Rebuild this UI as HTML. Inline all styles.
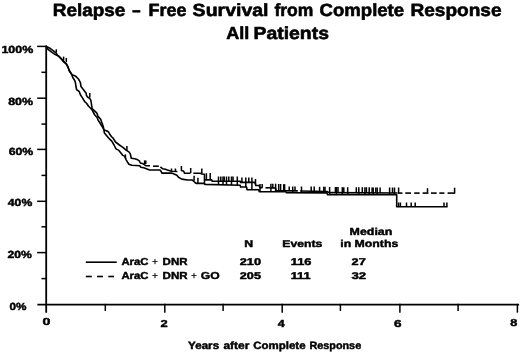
<!DOCTYPE html>
<html><head><meta charset="utf-8"><style>
html,body{margin:0;padding:0;background:#fff;}
body{width:520px;height:353px;overflow:hidden;}
svg{display:block;will-change:transform;}
.tk{stroke-width:1.5px;}
text{font-family:"Liberation Sans", sans-serif;font-weight:bold;text-rendering:geometricPrecision;fill:#000;stroke:#000;stroke-width:0.45px;stroke-linejoin:round;}
[id^=tw]{stroke-width:0.6px;}
#l1p,#l2p,#l2q{font-weight:normal;stroke-width:0.2px;}
</style></head><body>
<svg width="520" height="353" viewBox="0 0 520 353">
<rect width="520" height="353" fill="#fff"/>
<g stroke="#000" stroke-width="1.8" fill="none" stroke-linecap="square">
<line x1="46.2" y1="46.4" x2="46.2" y2="311.9"/><line x1="38.3" y1="304.6" x2="518.2" y2="304.6"/><line class="tk" x1="37.9" y1="46.4" x2="46.2" y2="46.4"/><line class="tk" x1="37.9" y1="98.2" x2="46.2" y2="98.2"/><line class="tk" x1="37.9" y1="149.4" x2="46.2" y2="149.4"/><line class="tk" x1="37.9" y1="201.3" x2="46.2" y2="201.3"/><line class="tk" x1="37.9" y1="252.6" x2="46.2" y2="252.6"/><line class="tk" x1="42.2" y1="72.3" x2="46.2" y2="72.3"/><line class="tk" x1="42.2" y1="124.1" x2="46.2" y2="124.1"/><line class="tk" x1="42.2" y1="175.4" x2="46.2" y2="175.4"/><line class="tk" x1="42.2" y1="226.8" x2="46.2" y2="226.8"/><line class="tk" x1="42.2" y1="278.6" x2="46.2" y2="278.6"/><line class="tk" x1="164.8" y1="304.6" x2="164.8" y2="311.9"/><line class="tk" x1="282.2" y1="304.6" x2="282.2" y2="311.9"/><line class="tk" x1="399.9" y1="304.6" x2="399.9" y2="311.9"/><line class="tk" x1="517.4" y1="304.6" x2="517.4" y2="311.9"/><line class="tk" x1="105.3" y1="304.6" x2="105.3" y2="310.2"/><line class="tk" x1="223.1" y1="304.6" x2="223.1" y2="310.2"/><line class="tk" x1="340.4" y1="304.6" x2="340.4" y2="310.2"/><line class="tk" x1="458.1" y1="304.6" x2="458.1" y2="310.2"/>
</g>
<g stroke="#000" stroke-width="1.6" fill="none" stroke-linejoin="round" stroke-linecap="butt">
<polyline points="46.2,46.5 50,48.3 52.4,50.1 56.1,52.8 57.1,54.9 58.9,56.2 60.9,58.3 62.6,60.3 64.6,62.4 66.3,63.7 67.7,66.4 68.4,68 69.1,70.2 72,74.8 75.3,75.9 78.7,79.3 80.4,82.7 81,86.6 83.5,89.7 84.8,91.4 86.1,93.1 86.5,95.6 87.8,97.3 89.5,98.2 90.7,99.9 91.2,102.4 91.6,105 92,108 92.6,109 95.4,111.6 97,113.3 97.9,116.2 99.2,117.6 100.8,119.6 101.7,122.2 103.1,126 104,130 106.5,130.7 108.6,132 109.9,134.6 111.6,136.7 113.3,138.4 115.5,142 119.4,145 122.9,147.4 126.4,150.4 128.9,151.9 130.3,153.9 131.3,158.3 134.8,158.8 137.8,159.8 139.3,160.8 140.3,163 143.1,163.8 146.2,165.8 150,165.8"/><polyline points="153,166.2 158.8,166.2"/><polyline points="160.4,166.9 162.7,168.8 165.4,169.2 167.3,170 171.5,171.2 177.4,171.5"/><polyline points="181.4,170.8 183.6,171 184.5,173.2 190.4,173.2"/><polyline points="193.3,173.2 200.5,173.2 201.8,174 204.5,174.2 204.5,179.9 211.8,179.9 212.2,181.2 240.2,181.2 240.6,182.4 255,182.4 255.8,185.5 259,185.5 260,187.6 262.4,187.7"/><polyline points="265.5,187.8 270.1,187.8"/><polyline points="270.8,187.9 275.5,188 276,190.6 297.8,190.9"/><polyline points="300.2,191 327,191.5 329,192.6 397,193"/><polyline points="46.2,47.4 48.6,49.9 52,52.4 54.6,54.2 57.1,55.4 58.9,56.5 60.9,58.6 62.6,60.6 64.6,62.7 66.3,64 67.7,66.7 68.4,68.3 69.1,70.5 72,75 72.5,77 74.7,80.5 75.3,82.1 76.5,89.5 79.3,91.7 80.5,95 82,97.1 84.5,101.4 86.7,103.5 88.4,106 90.1,107.7 91.8,109.4 93.2,112 94.8,115 97.1,117.5 98.3,120.5 100,123 101.8,126.1 103.1,128.2 104,130.3 104.4,132.9 106.5,135.4 108.6,138 110.7,140.1 112,141.4 114,145 116,148.9 118.9,150.4 120.9,152.9 122.9,155.4 124.9,156.4 125.9,159.3 127.9,162.8 128.9,164.3 131.8,165.3 139.8,165.8 140.8,167.3 143.7,167.8 147.7,169.3 149.6,170 160,170 161.2,171.5 161.9,173.1 171.5,173.1 174.6,174.2 176.9,175.2 178.5,177.3 181.8,179.1 187.7,180 192,180 193.3,180.8 195,182.5 196.2,183.4 203.9,183.4 205.1,184.4 240.2,185.2 240.6,187 246.6,187 247,189.6 258.7,189.7 259.2,191.6 286,191.8 286.5,192.8 327,192.9 327.5,194.8 396.7,194.8 396.7,206.8 447.5,206.8"/>
<line x1="397.4" y1="193.1" x2="402.4" y2="193.1"/><line x1="405.3" y1="193.1" x2="411" y2="193.1"/><line x1="414.2" y1="193.1" x2="419.6" y2="193.1"/><line x1="422.6" y1="193.1" x2="428.4" y2="193.1"/><line x1="431" y1="193.1" x2="436.7" y2="193.1"/><line x1="439.3" y1="193.1" x2="444.4" y2="193.1"/><line x1="447.6" y1="193.1" x2="455.2" y2="193.1"/>
</g>
<g stroke="#000" stroke-width="1.5" fill="none">
<line x1="56.3" y1="49.3" x2="56.3" y2="52.4"/><line x1="63.6" y1="56.6" x2="63.6" y2="60.5"/><line x1="66.3" y1="58" x2="66.3" y2="62"/><line x1="89.8" y1="92.9" x2="89.8" y2="97.4"/><line x1="126.9" y1="146" x2="126.9" y2="150.4"/><line x1="125.4" y1="154.4" x2="125.4" y2="158.5"/><line x1="144.6" y1="160.4" x2="144.6" y2="164"/><line x1="145.8" y1="160.4" x2="145.8" y2="164"/><line x1="171.5" y1="168.5" x2="171.5" y2="171.2"/><line x1="175.4" y1="168.5" x2="175.4" y2="171.5"/><line x1="181.4" y1="166" x2="181.4" y2="171"/><line x1="190.7" y1="168" x2="190.7" y2="173.2"/><line x1="194.1" y1="175.7" x2="194.1" y2="180.8"/><line x1="197.9" y1="177.8" x2="197.9" y2="183.4"/><line x1="201.8" y1="168.5" x2="201.8" y2="174"/><line x1="206.4" y1="173.2" x2="206.4" y2="179.9"/><line x1="210.2" y1="173" x2="210.2" y2="179.9"/><line x1="204.5" y1="179.5" x2="204.5" y2="184.4"/><line x1="218.5" y1="176.5" x2="218.5" y2="184.71"/><line x1="220.8" y1="176.5" x2="220.8" y2="181.2"/><line x1="223" y1="176.5" x2="223" y2="184.81"/><line x1="224.2" y1="176.5" x2="224.2" y2="181.2"/><line x1="226.5" y1="176.5" x2="226.5" y2="184.89"/><line x1="228.8" y1="176.5" x2="228.8" y2="181.2"/><line x1="231.5" y1="176.5" x2="231.5" y2="185"/><line x1="233" y1="176.5" x2="233" y2="181.2"/><line x1="237.3" y1="176.5" x2="237.3" y2="185.13"/><line x1="241.9" y1="177.4" x2="241.9" y2="182.4"/><line x1="245.8" y1="177.4" x2="245.8" y2="187"/><line x1="248.8" y1="177.4" x2="248.8" y2="182.4"/><line x1="251.9" y1="177.4" x2="251.9" y2="189.64"/><line x1="255.5" y1="179" x2="255.5" y2="184.34"/><line x1="260" y1="184" x2="260" y2="191.61"/><line x1="262.2" y1="184" x2="262.2" y2="187.66"/><line x1="270.9" y1="183.7" x2="270.9" y2="191.69"/><line x1="272.8" y1="183.7" x2="272.8" y2="187.93"/><line x1="275.6" y1="183.7" x2="275.6" y2="191.72"/><line x1="278.7" y1="184" x2="278.7" y2="190.65"/><line x1="280.6" y1="184" x2="280.6" y2="191.76"/><line x1="283.7" y1="184.2" x2="283.7" y2="190.74"/><line x1="284.6" y1="184.2" x2="284.6" y2="191.79"/><line x1="289.2" y1="186.5" x2="289.2" y2="190.83"/><line x1="292.7" y1="186.5" x2="292.7" y2="192.82"/><line x1="295" y1="186.5" x2="295" y2="190.94"/><line x1="301.5" y1="186.5" x2="301.5" y2="192.84"/><line x1="311.2" y1="186.5" x2="311.2" y2="191.22"/><line x1="314.2" y1="186.5" x2="314.2" y2="192.87"/><line x1="319.6" y1="186.8" x2="319.6" y2="191.37"/><line x1="323.8" y1="186.8" x2="323.8" y2="192.89"/><line x1="325" y1="186.8" x2="325" y2="191.46"/><line x1="329.6" y1="187" x2="329.6" y2="194.8"/><line x1="335.4" y1="187" x2="335.4" y2="192.64"/><line x1="336.5" y1="187" x2="336.5" y2="194.8"/><line x1="338" y1="187" x2="338" y2="192.65"/><line x1="342.3" y1="187.2" x2="342.3" y2="194.8"/><line x1="343.8" y1="187.2" x2="343.8" y2="192.69"/><line x1="347.7" y1="187.2" x2="347.7" y2="194.8"/><line x1="356.3" y1="187.2" x2="356.3" y2="192.76"/><line x1="358.8" y1="187.2" x2="358.8" y2="194.8"/><line x1="362.3" y1="187.2" x2="362.3" y2="192.8"/><line x1="364.9" y1="187.2" x2="364.9" y2="194.8"/><line x1="366.4" y1="187.2" x2="366.4" y2="192.82"/><line x1="369.2" y1="187.2" x2="369.2" y2="194.8"/><line x1="372.1" y1="187.4" x2="372.1" y2="192.85"/><line x1="373.2" y1="187.4" x2="373.2" y2="194.8"/><line x1="375.8" y1="187.4" x2="375.8" y2="192.88"/><line x1="377.2" y1="187.4" x2="377.2" y2="194.8"/><line x1="380.1" y1="187.4" x2="380.1" y2="192.9"/><line x1="389.6" y1="187.5" x2="389.6" y2="194.8"/><line x1="392.5" y1="187.5" x2="392.5" y2="192.97"/><line x1="394.5" y1="187.5" x2="394.5" y2="194.8"/><line x1="398.6" y1="187.5" x2="398.6" y2="193"/><line x1="427.5" y1="188.2" x2="427.5" y2="192.8"/><line x1="454.6" y1="187.7" x2="454.6" y2="192.8"/><line x1="398.6" y1="202.5" x2="398.6" y2="206.8"/><line x1="400.4" y1="202.5" x2="400.4" y2="206.8"/><line x1="406.5" y1="202.5" x2="406.5" y2="206.8"/><line x1="411.2" y1="202.5" x2="411.2" y2="206.8"/><line x1="415.2" y1="202.5" x2="415.2" y2="206.8"/><line x1="444" y1="202.5" x2="444" y2="206.8"/><line x1="446.9" y1="202.5" x2="446.9" y2="206.8"/>
</g>
<g stroke="#000" stroke-width="1.6" fill="none">
<line x1="85.8" y1="262.2" x2="116.7" y2="262.2"/><line x1="85.8" y1="276.5" x2="91.8" y2="276.5"/><line x1="97" y1="276.5" x2="103" y2="276.5"/><line x1="108.3" y1="276.5" x2="114" y2="276.5"/>
</g>
<g>
<text id="tw1" x="52.76" y="15.8" font-size="17.6" textLength="72.64" lengthAdjust="spacingAndGlyphs">Relapse</text>
<text id="tw2" x="132.34" y="16.4" font-size="17.6" textLength="8.3" lengthAdjust="spacingAndGlyphs">–</text>
<text id="tw3" x="148.56" y="15.8" font-size="17.6" textLength="37.95" lengthAdjust="spacingAndGlyphs">Free</text>
<text id="tw4" x="192.63" y="15.8" font-size="17.6" textLength="75.9" lengthAdjust="spacingAndGlyphs">Survival</text>
<text id="tw5" x="274.4" y="15.8" font-size="17.6" textLength="38.87" lengthAdjust="spacingAndGlyphs">from</text>
<text id="tw6" x="319.59" y="15.8" font-size="17.6" textLength="84.56" lengthAdjust="spacingAndGlyphs">Complete</text>
<text id="tw7" x="410.43" y="15.8" font-size="17.6" textLength="91.15" lengthAdjust="spacingAndGlyphs">Response</text>
<text id="tw8" x="226.31" y="39.2" font-size="17.4" textLength="23.08" lengthAdjust="spacingAndGlyphs">All</text>
<text id="tw9" x="253.62" y="39.2" font-size="17.4" textLength="75.3" lengthAdjust="spacingAndGlyphs">Patients</text>
<text id="y100" x="1.41" y="53.3" font-size="10.3" textLength="31.8" lengthAdjust="spacingAndGlyphs">100%</text>
<text id="y80" x="8.2" y="104.6" font-size="10.3" textLength="24.91" lengthAdjust="spacingAndGlyphs">80%</text>
<text id="y60" x="8.67" y="154.8" font-size="10.3" textLength="24.64" lengthAdjust="spacingAndGlyphs">60%</text>
<text id="y40" x="7.83" y="205.6" font-size="10.3" textLength="24.38" lengthAdjust="spacingAndGlyphs">40%</text>
<text id="y20" x="7.5" y="258" font-size="10.3" textLength="24.33" lengthAdjust="spacingAndGlyphs">20%</text>
<text id="y0" x="9.49" y="310.2" font-size="10.3" textLength="16.98" lengthAdjust="spacingAndGlyphs">0%</text>
<text id="x0" x="42.54" y="325.2" font-size="10.2" textLength="7.91" lengthAdjust="spacingAndGlyphs">0</text>
<text id="x2" x="160.47" y="326.8" font-size="10.2" textLength="7.19" lengthAdjust="spacingAndGlyphs">2</text>
<text id="x4" x="277.75" y="326.7" font-size="10.2" textLength="6.94" lengthAdjust="spacingAndGlyphs">4</text>
<text id="x6" x="393.93" y="326.6" font-size="10.2" textLength="7.52" lengthAdjust="spacingAndGlyphs">6</text>
<text id="x8" x="510.37" y="326.4" font-size="10.2" textLength="7.06" lengthAdjust="spacingAndGlyphs">8</text>
<text id="xw1" x="188.13" y="348.8" font-size="10.6" textLength="30.96" lengthAdjust="spacingAndGlyphs">Years</text>
<text id="xw2" x="223.46" y="348.8" font-size="10.6" textLength="25.95" lengthAdjust="spacingAndGlyphs">after</text>
<text id="xw3" x="253.3" y="348.8" font-size="10.6" textLength="52.29" lengthAdjust="spacingAndGlyphs">Complete</text>
<text id="xw4" x="309.48" y="348.8" font-size="10.6" textLength="51.68" lengthAdjust="spacingAndGlyphs">Response</text>
<text id="l1a" x="121.41" y="265" font-size="10.2" textLength="27.06" lengthAdjust="spacingAndGlyphs">AraC</text>
<text id="l1p" x="152.07" y="265" font-size="10.2">+</text>
<text id="l1b" x="162.61" y="265" font-size="10.2" textLength="24.94" lengthAdjust="spacingAndGlyphs">DNR</text>
<text id="l2a" x="121.41" y="279.2" font-size="10.2" textLength="27.06" lengthAdjust="spacingAndGlyphs">AraC</text>
<text id="l2p" x="152.07" y="279.2" font-size="10.2">+</text>
<text id="l2b" x="162.6" y="279.2" font-size="10.2" textLength="25.09" lengthAdjust="spacingAndGlyphs">DNR</text>
<text id="l2q" x="191.07" y="279.2" font-size="10.2">+</text>
<text id="l2c" x="200.77" y="279.2" font-size="10.2" textLength="18.85" lengthAdjust="spacingAndGlyphs">GO</text>
<text id="hN" x="244.28" y="247.3" font-size="10" textLength="8.86" lengthAdjust="spacingAndGlyphs">N</text>
<text id="hE" x="282.25" y="247.3" font-size="10" textLength="40.14" lengthAdjust="spacingAndGlyphs">Events</text>
<text id="hM1" x="349.63" y="234.5" font-size="10.2" textLength="42.68" lengthAdjust="spacingAndGlyphs">Median</text>
<text id="hM2" x="340.32" y="247.3" font-size="10.2" textLength="57.92" lengthAdjust="spacingAndGlyphs">in Months</text>
<text id="n1" x="239.79" y="264.85" font-size="9.8" textLength="21.29" lengthAdjust="spacingAndGlyphs">210</text>
<text id="e1" x="290.73" y="264.85" font-size="9.8" textLength="20.67" lengthAdjust="spacingAndGlyphs">116</text>
<text id="m1" x="351.6" y="264.85" font-size="9.8" textLength="14.18" lengthAdjust="spacingAndGlyphs">27</text>
<text id="n2" x="239.79" y="279.25" font-size="9.8" textLength="21.18" lengthAdjust="spacingAndGlyphs">205</text>
<text id="e2" x="290.76" y="279.25" font-size="9.8" textLength="19.82" lengthAdjust="spacingAndGlyphs">111</text>
<text id="m2" x="351.53" y="279.35" font-size="9.8" textLength="14.73" lengthAdjust="spacingAndGlyphs">32</text>
</g>
</svg>
</body></html>
